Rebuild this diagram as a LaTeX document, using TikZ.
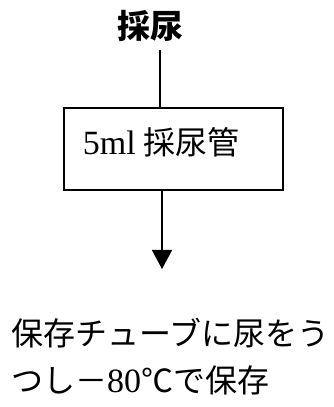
\documentclass[tikz,border=0pt]{standalone}
\usepackage{fontspec}
\setmainfont{Liberation Serif}
\newfontfamily\cjk{Noto Sans CJK JP}
\usetikzlibrary{arrows.meta}
\tikzset{
  lbl/.style={inner sep=0pt, font=\fontsize{32}{36}\selectfont\cjk},
  ttl/.style={inner sep=0pt, font=\fontsize{33}{36}\selectfont\cjk\bfseries},
  line/.style={line width=1.5pt, draw=black},
  frame/.style={line width=2pt, draw=black}
}
\begin{document}
\begin{tikzpicture}[x=1pt,y=1pt]
\useasboundingbox (0,0) rectangle (334,407);
\node[ttl] (t) at (150,381) {採尿};
\draw[frame] (64,217) rectangle (283,299);
\coordinate (bn) at (160,299);
\coordinate (bs) at (162,217);
\node[lbl, anchor=center] (b) at (161,265) {{\rmfamily\fontsize{34}{36}\selectfont 5ml} 採尿管};
\coordinate (c1) at (160,357);
\coordinate (c2) at (162,138);
\draw[line] (c1) -- (bn);
\draw[line, -{Triangle[width=20pt,length=19pt]}] (bs) -- (c2);
\node[lbl, anchor=west] (l1) at (11,74) {保存チューブに尿をう};
\node[lbl, anchor=west] (l2) at (11,27) {つし－{\rmfamily\fontsize{34}{36}\selectfont 80}℃で保存};
\end{tikzpicture}
\end{document}
